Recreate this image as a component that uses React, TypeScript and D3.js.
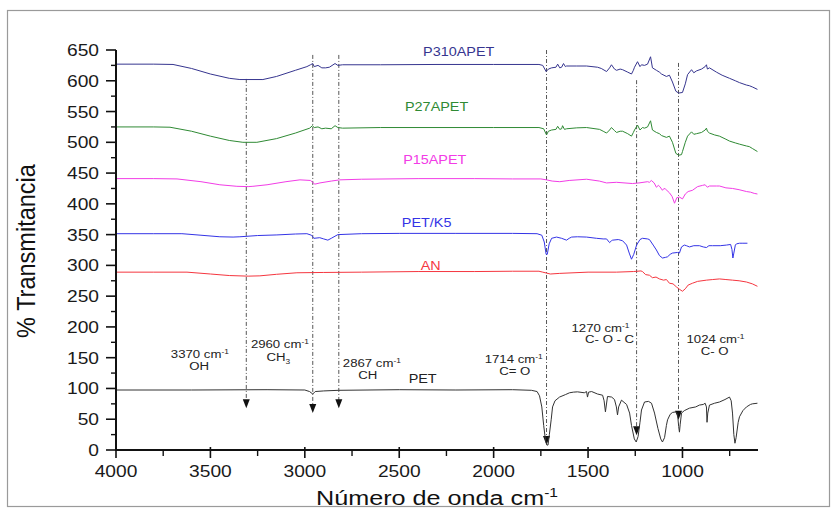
import React from "react";
import * as d3 from "d3";

// ---------- DATA (wavenumber cm-1, % transmittance) ----------
const xTicks = [4000, 3500, 3000, 2500, 2000, 1500, 1000];
const yTicks = [0, 50, 100, 150, 200, 250, 300, 350, 400, 450, 500, 550, 600, 650];

const P310APET: [number, number][] = [
  [4000, 627], [3800, 627], [3698, 626.5], [3600, 620], [3500, 611], [3400, 604], [3344, 602], [3222, 602],
  [3150, 607], [3050, 617], [2989, 623], [2970, 626], [2958, 628], [2950, 623], [2930, 625], [2910, 621],
  [2890, 621], [2870, 622], [2840, 628], [2825, 625], [2800, 626], [2600, 626], [2300, 626.5], [2000, 626.5],
  [1760, 626.5], [1740, 625], [1722, 615], [1710, 619], [1693, 621], [1670, 622], [1661, 627], [1650, 621],
  [1640, 622], [1630, 628], [1620, 623], [1614, 624], [1560, 624], [1508, 624], [1450, 622], [1430, 620],
  [1402, 615], [1386, 621], [1376, 626], [1360, 619], [1349, 617], [1330, 619], [1317, 618], [1290, 614],
  [1270, 611], [1260, 617], [1254, 622], [1238, 631], [1225, 623], [1217, 626], [1201, 625], [1185, 627],
  [1169, 639], [1159, 621], [1138, 617], [1122, 614], [1111, 611], [1085, 607], [1069, 609], [1053, 598],
  [1035, 583], [1020, 580], [1000, 581], [985, 595], [973, 610], [952, 618], [940, 613], [926, 616],
  [899, 619], [880, 623], [873, 626], [868, 619], [857, 621], [820, 614], [790, 609], [751, 604],
  [720, 600], [698, 597], [661, 593], [646, 592], [630, 590], [603, 586],
];

const P27APET: [number, number][] = [
  [4000, 525], [3800, 525], [3714, 524.5], [3600, 518], [3500, 510], [3400, 503], [3328, 500], [3254, 500],
  [3150, 506], [3050, 515], [2974, 523], [2960, 527], [2950, 524], [2930, 525], [2910, 522], [2890, 523],
  [2860, 522], [2840, 527], [2825, 524], [2800, 523], [2600, 524], [2300, 524], [2000, 524], [1760, 524],
  [1735, 522], [1720, 512], [1710, 518], [1693, 520], [1670, 521], [1661, 526], [1650, 521], [1640, 522],
  [1635, 527], [1625, 521], [1614, 522], [1560, 523.5], [1508, 524], [1439, 521], [1420, 518], [1402, 515],
  [1386, 520], [1376, 524], [1360, 519], [1349, 516], [1330, 518], [1317, 518], [1290, 514], [1270, 510],
  [1260, 516], [1254, 520], [1238, 528], [1225, 520], [1212, 524], [1201, 523], [1185, 525], [1169, 535],
  [1159, 520], [1138, 516], [1122, 514], [1111, 511], [1085, 508], [1069, 510], [1053, 500], [1035, 482],
  [1020, 479], [1005, 480], [1000, 485], [985, 500], [973, 510], [952, 517], [940, 513], [926, 514],
  [899, 516], [880, 520], [873, 523], [868, 518], [857, 515], [830, 512], [804, 510], [770, 505],
  [751, 502], [720, 499], [698, 497], [661, 494], [646, 493], [630, 490], [603, 485],
];

const P15APET: [number, number][] = [
  [4000, 441], [3800, 441], [3677, 440.5], [3550, 436], [3450, 431], [3360, 428.5], [3300, 428], [3275, 428.5],
  [3200, 431], [3100, 436], [3026, 439], [2970, 438], [2947, 432], [2920, 434], [2860, 437], [2815, 439],
  [2700, 440], [2400, 441], [2100, 441], [1900, 440.5], [1750, 440.5], [1720, 439], [1690, 437], [1650, 436],
  [1600, 438], [1508, 440], [1440, 437], [1402, 434], [1350, 435], [1265, 433], [1230, 434], [1185, 436],
  [1175, 435], [1165, 438], [1150, 434], [1138, 427], [1128, 430], [1120, 428], [1106, 422], [1098, 425],
  [1090, 424], [1069, 418], [1055, 412], [1042, 401], [1030, 410], [1016, 411], [1000, 408], [985, 416],
  [970, 420], [947, 422], [920, 428], [894, 430], [880, 431], [868, 427], [857, 429], [820, 429],
  [804, 429], [770, 426], [735, 425], [700, 423], [661, 420], [640, 419], [620, 417], [603, 416],
];

const PETK5: [number, number][] = [
  [4000, 351.5], [3800, 351.5], [3651, 351.5], [3550, 349], [3450, 346.5], [3380, 346], [3344, 346.5],
  [3250, 348.5], [3148, 349.5], [3050, 351], [2989, 351.5], [2965, 349], [2952, 344], [2921, 345],
  [2900, 343], [2878, 341], [2860, 344], [2825, 350], [2700, 351.5], [2500, 352], [2200, 352], [1900, 352],
  [1770, 351.5], [1745, 349], [1732, 338], [1722, 318], [1716, 318], [1706, 335], [1693, 344], [1667, 346],
  [1640, 344], [1614, 341], [1600, 344], [1587, 346], [1556, 346.5], [1508, 346], [1455, 344], [1420, 343],
  [1402, 343], [1386, 337], [1376, 340], [1370, 341], [1340, 342], [1317, 340], [1296, 333], [1282, 320],
  [1270, 310], [1258, 318], [1243, 333], [1225, 342], [1212, 344], [1185, 343], [1175, 342], [1155, 333],
  [1138, 325], [1122, 316], [1106, 312], [1090, 313], [1079, 314], [1065, 318], [1053, 320], [1026, 321],
  [1016, 320], [1005, 330], [990, 333], [979, 332], [963, 330], [940, 332], [910, 332], [890, 330],
  [873, 329], [860, 332], [841, 332], [800, 332], [767, 333], [745, 334], [738, 326], [733, 312],
  [728, 320], [720, 333], [714, 335], [698, 336], [680, 336], [656, 336],
];

const AN: [number, number][] = [
  [4000, 289], [3800, 289], [3624, 289], [3500, 286], [3400, 283.5], [3300, 282.5], [3238, 283], [3150, 285.5],
  [3042, 288], [2900, 288.5], [2700, 289], [2400, 290], [2100, 290], [1900, 290.5], [1760, 290.5], [1740, 289],
  [1700, 286], [1650, 287], [1500, 289], [1350, 289], [1260, 290], [1220, 291], [1212, 290], [1195, 285],
  [1175, 284], [1159, 280], [1140, 281], [1122, 278], [1100, 276], [1085, 277], [1069, 271], [1050, 270],
  [1032, 265], [1015, 261], [1000, 258], [985, 262], [970, 268], [947, 271], [920, 274], [873, 276],
  [840, 277], [804, 278], [770, 277], [735, 276], [700, 275], [661, 273], [630, 270], [603, 266],
];

const PET: [number, number][] = [
  [4000, 97.5], [3600, 97.5], [3200, 98], [3000, 97.5], [2975, 95], [2958, 91], [2945, 95], [2900, 96],
  [2820, 97], [2500, 98], [2200, 97.5], [1900, 98], [1800, 97], [1770, 95], [1757, 88], [1745, 70],
  [1735, 40], [1725, 15], [1718, 8], [1712, 8], [1705, 25], [1695, 50], [1688, 70], [1675, 80],
  [1651, 86], [1620, 90], [1598, 93], [1578, 94], [1556, 94.5], [1520, 93], [1508, 95], [1503, 86],
  [1497, 94], [1481, 95], [1450, 91], [1423, 89], [1415, 80], [1408, 62], [1401, 78], [1397, 87],
  [1375, 86], [1360, 82], [1350, 70], [1344, 57], [1338, 70], [1323, 81], [1296, 74], [1280, 60],
  [1270, 40], [1255, 18], [1245, 13], [1235, 22], [1225, 45], [1217, 65], [1201, 78], [1180, 79],
  [1164, 76], [1148, 60], [1130, 35], [1115, 18], [1106, 13], [1095, 20], [1085, 40], [1079, 49],
  [1065, 58], [1053, 61], [1035, 62], [1026, 58], [1020, 38], [1016, 29], [1012, 42], [1005, 60],
  [990, 64], [963, 68], [930, 70], [910, 73], [890, 74], [880, 76], [873, 70], [870, 45],
  [866, 60], [857, 73], [830, 76], [804, 78], [775, 82], [751, 86], [742, 80], [735, 60],
  [728, 25], [722, 11], [716, 20], [705, 45], [698, 54], [680, 64], [661, 70], [640, 74],
  [630, 75], [603, 76],
];

const seriesNames = ["P310APET", "P27APET", "P15APET", "PET/K5", "AN", "PET"];
const seriesData = [P310APET, P27APET, P15APET, PETK5, AN, PET];
const seriesColors = ["#36358f", "#2f8a34", "#f23ce6", "#3434e6", "#f5363f", "#333333"];
// label anchor (wavenumber, value)
const labelPos: [number, number][] = [[2185, 640], [2302, 551], [2312, 465], [2355, 362], [2333, 292.5], [2376, 109]];

// peak marker lines: wavenumber, start value, arrow tip value
const markers: [number, number, number][] = [
  [3310, 603, 68], [2958, 642, 60], [2820, 642, 68], [1720, 650, 8], [1243, 601, 24], [1021, 629, 49],
];

// annotation texts
const annWave = ["3370", "2960", "2867", "1714", "1270", "1024"];
const annGroup = ["OH", "CH", "CH", "C= O", "C- O - C", "C- O"];
const annGroupSub = ["", "3", "", "", "", ""];
const annPos1: [number, number][] = [[3556, 150.3], [3132, 165], [2645, 135.4], [1894, 141], [1434, 192], [825, 173.4]];
const annPos2: [number, number][] = [[3560, 130.8], [3140, 145], [2667, 115.4], [1888, 122], [1386, 173.4], [830, 154.4]];

// ---------- CHART ----------
const W = 833, H = 510;
const x = d3.scaleLinear().domain([4000, 600]).range([116, 758]);
const y = d3.scaleLinear().domain([0, 650]).range([450, 50]);
const SX = 1.2;
const FONT = "'Liberation Sans', Arial, sans-serif";

function T(props: { x: number; y: number; size: number; anchor?: string; fill?: string; children: any }) {
  return (
    <g transform={`translate(${props.x},${props.y}) scale(${SX},1)`}>
      <text textAnchor={props.anchor || "middle"} fontSize={props.size} fill={props.fill || "#222"} fontFamily={FONT}>
        {props.children}
      </text>
    </g>
  );
}

export default function App() {
  const line = d3.line<[number, number]>().x((d) => x(d[0])).y((d) => y(d[1]));
  const xMinor = d3.range(3750, 600, -500);
  const yMinor = d3.range(25, 650, 50);
  return (
    <svg width={W} height={H} style={{ position: "absolute", left: 0, top: 0 }}>
      <rect x={0} y={0} width={W} height={H} fill="#fff" />
      <rect x={7.5} y={10.5} width={822} height={496} fill="none" stroke="#9a9a9a" strokeWidth={1.2} />

      {/* marker lines */}
      {markers.map((m, i) => {
        const xx = x(m[0]);
        const y0 = y(m[1]);
        const y1 = y(m[2]);
        return (
          <g key={"m" + i}>
            <line x1={xx} x2={xx} y1={y0} y2={y1 - 8} stroke="#444" strokeWidth={0.9} strokeDasharray="4,2,1,2" />
            <path d={`M${xx - 3.5},${y1 - 9}L${xx + 3.5},${y1 - 9}L${xx},${y1}Z`} fill="#111" />
          </g>
        );
      })}

      {/* spectra */}
      {seriesData.map((s, i) => (
        <path key={seriesNames[i]} d={line(s) || ""} fill="none" stroke={seriesColors[i]} strokeWidth={1} />
      ))}

      {/* series labels */}
      {seriesNames.map((n, i) => (
        <T key={"l" + n} x={x(labelPos[i][0])} y={y(labelPos[i][1])} size={12} fill={i === 5 ? "#222" : seriesColors[i]}>
          {n}
        </T>
      ))}

      {/* annotations */}
      {annWave.map((w, i) => (
        <g key={"a" + i}>
          <T x={x(annPos1[i][0])} y={y(annPos1[i][1])} size={11}>
            {w} cm<tspan fontSize={7} dy={-4}>-1</tspan>
          </T>
          <T x={x(annPos2[i][0])} y={y(annPos2[i][1])} size={11}>
            {annGroup[i]}
            {annGroupSub[i] ? <tspan fontSize={7} dy={3}>{annGroupSub[i]}</tspan> : null}
          </T>
        </g>
      ))}

      {/* axes */}
      <line x1={116} x2={116} y1={y(650)} y2={y(0)} stroke="#111" strokeWidth={2} />
      <line x1={115} x2={758} y1={450} y2={450} stroke="#111" strokeWidth={2} />
      {yTicks.map((t) => (
        <g key={"yt" + t}>
          <line x1={106} x2={116} y1={y(t)} y2={y(t)} stroke="#111" strokeWidth={1.6} />
          <T x={99} y={y(t) + 6} size={16} anchor="end" fill="#1a1a1a">
            {t}
          </T>
        </g>
      ))}
      {yMinor.map((t) => (
        <line key={"ym" + t} x1={111} x2={116} y1={y(t)} y2={y(t)} stroke="#111" strokeWidth={1.4} />
      ))}
      {xTicks.map((t) => (
        <g key={"xt" + t}>
          <line x1={x(t)} x2={x(t)} y1={447} y2={458} stroke="#111" strokeWidth={1.6} />
          <T x={x(t)} y={477} size={16} fill="#1a1a1a">
            {t}
          </T>
        </g>
      ))}
      {xMinor.map((t) => (
        <line key={"xm" + t} x1={x(t)} x2={x(t)} y1={450} y2={456} stroke="#111" strokeWidth={1.4} />
      ))}

      {/* axis titles */}
      <T x={437} y={505} size={21} fill="#111">
        Número de onda cm<tspan fontSize={13} dy={-8}>-1</tspan>
      </T>
      <g transform={`translate(35,251) rotate(-90) scale(1.12,${SX})`}>
        <text textAnchor="middle" fontSize={21} fill="#111" fontFamily={FONT}>
          % Transmitancia
        </text>
      </g>
    </svg>
  );
}
